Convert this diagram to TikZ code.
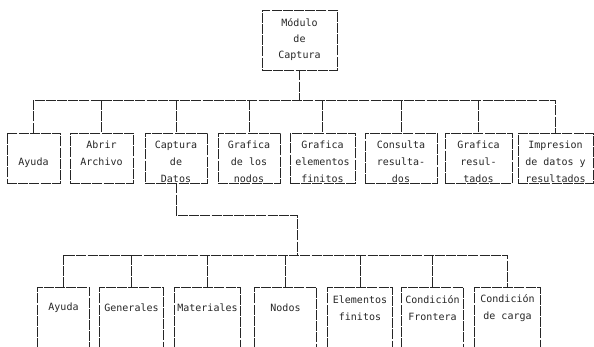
\documentclass[tikz,border=0pt]{standalone}
\usepackage{fontspec}
\newfontfamily\dotfont{DejaVu Sans Mono}
\newcommand{\celltext}[2]{\parbox[c][34pt][t]{#1}{\centering #2}}
\newcommand{\lowtext}[2]{\parbox[c][42pt][c]{#1}{\centering #2}}
\tikzset{
  dashline/.style={line width=0.8pt, dash pattern=on 10pt off 1.2pt, black!85},
  topbox/.style={draw, dashline, align=center, minimum width=75pt, minimum height=60pt,
    font=\dotfont\fontsize{10}{16}\selectfont},
  cellbox/.style={draw, dashline, inner xsep=0pt, inner ysep=8pt,
    font=\dotfont\fontsize{10}{17}\selectfont},
  lowbox/.style={black!85, inner sep=0pt, anchor=north,
    font=\dotfont\fontsize{10}{17}\selectfont}
}
\begin{document}
\begin{tikzpicture}[x=1pt,y=-1pt]
\useasboundingbox (0,0) rectangle (594,346);
\clip (0,0) rectangle (594,346);
% top
\node[topbox] (modcap) at (299.5,40) {M\'odulo\\de\\Captura};
% second row
\node[cellbox] (a1) at (33.5,158) {\celltext{53pt}{\vspace*{17pt}Ayuda}};
\node[cellbox] (a2) at (101.5,158) {\celltext{63pt}{Abrir\\Archivo}};
\node[cellbox] (a3) at (176,158) {\celltext{62pt}{Captura\\de\\Datos}};
\node[cellbox] (a4) at (249,158) {\celltext{62pt}{Grafica\\de los\\nodos}};
\node[cellbox] (a5) at (322.5,158) {\celltext{65pt}{Grafica\\elementos\\finitos}};
\node[cellbox] (a6) at (401,158) {\celltext{72pt}{Consulta\\resulta-\\dos}};
\node[cellbox] (a7) at (478.5,158) {\celltext{67pt}{Grafica\\resul-\\tados}};
\node[cellbox] (a8) at (555.5,158) {\celltext{75pt}{Impresion\\de datos y\\resultados}};
% third row
\node[lowbox] (b1) at (63.5,287) {\lowtext{51pt}{Ayuda}};
\node[lowbox] (b2) at (131.5,287) {\lowtext{63pt}{Generales}};
\node[lowbox] (b3) at (207.5,287) {\lowtext{65pt}{Materiales}};
\node[lowbox] (b4) at (285.5,287) {\lowtext{61pt}{Nodos}};
\node[lowbox] (b5) at (360,287) {\lowtext{64pt}{Elementos\\finitos}};
\node[lowbox] (b6) at (432.5,287) {\lowtext{61pt}{Condici\'on\\Frontera}};
\node[lowbox] (b7) at (507.5,287) {\lowtext{65pt}{Condici\'on\\de carga}};
\draw[dashline] ([yshift=-30pt]b1.south west) -- (b1.north west) -- (b1.north east) -- ([yshift=-30pt]b1.south east);
\draw[dashline] ([yshift=-30pt]b2.south west) -- (b2.north west) -- (b2.north east) -- ([yshift=-30pt]b2.south east);
\draw[dashline] ([yshift=-30pt]b3.south west) -- (b3.north west) -- (b3.north east) -- ([yshift=-30pt]b3.south east);
\draw[dashline] ([yshift=-30pt]b4.south west) -- (b4.north west) -- (b4.north east) -- ([yshift=-30pt]b4.south east);
\draw[dashline] ([yshift=-30pt]b5.south west) -- (b5.north west) -- (b5.north east) -- ([yshift=-30pt]b5.south east);
\draw[dashline] ([yshift=-30pt]b6.south west) -- (b6.north west) -- (b6.north east) -- ([yshift=-30pt]b6.south east);
\draw[dashline] ([yshift=-30pt]b7.south west) -- (b7.north west) -- (b7.north east) -- ([yshift=-30pt]b7.south east);
% connectors
\coordinate (bus1) at (0,100);
\coordinate (bus2) at (0,255);
\coordinate (bend) at (297,215);
\draw[dashline] (modcap.south) -- (modcap.south |- bus1);
\draw[dashline] (a1.north) -- (a1.north |- bus1) -- (a8.north |- bus1) -- (a8.north);
\draw[dashline] (a2.north |- bus1) -- (a2.north);
\draw[dashline] (a3.north |- bus1) -- (a3.north);
\draw[dashline] (a4.north |- bus1) -- (a4.north);
\draw[dashline] (a5.north |- bus1) -- (a5.north);
\draw[dashline] (a6.north |- bus1) -- (a6.north);
\draw[dashline] (a7.north |- bus1) -- (a7.north);
\draw[dashline] (a3.south) -- (a3.south |- bend) -- (bend) -- (bend |- bus2);
\draw[dashline] (b1.north) -- (b1.north |- bus2) -- (b7.north |- bus2) -- (b7.north);
\draw[dashline] (b2.north |- bus2) -- (b2.north);
\draw[dashline] (b3.north |- bus2) -- (b3.north);
\draw[dashline] (b4.north |- bus2) -- (b4.north);
\draw[dashline] (b5.north |- bus2) -- (b5.north);
\draw[dashline] (b6.north |- bus2) -- (b6.north);
\end{tikzpicture}
\end{document}
